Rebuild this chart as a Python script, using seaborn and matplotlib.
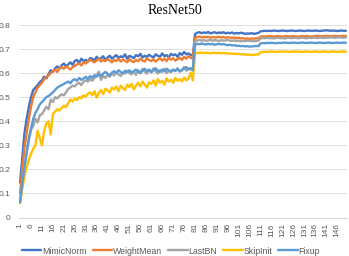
import numpy as np
import pandas as pd
import matplotlib
matplotlib.use("Agg")
import matplotlib.pyplot as plt
import seaborn as sns

epochs = list(range(1, 151))
series_names = ["MimicNorm", "WeightMean", "LastBN", "SkipInit", "Fixup"]
colors = ["#4472C4", "#ED7D31", "#A5A5A5", "#FFC000", "#5B9BD5"]

mimicnorm = [
    0.145, 0.250, 0.350, 0.410, 0.460, 0.500, 0.530, 0.540, 0.550, 0.562,
    0.570, 0.585, 0.578, 0.595, 0.612, 0.605, 0.620, 0.628, 0.618, 0.632,
    0.640, 0.628, 0.636, 0.645, 0.635, 0.650, 0.655, 0.642, 0.660, 0.650,
    0.655, 0.648, 0.662, 0.660, 0.652, 0.668, 0.658, 0.662, 0.670, 0.655,
    0.665, 0.672, 0.660, 0.668, 0.675, 0.662, 0.670, 0.666, 0.678, 0.660,
    0.672, 0.668, 0.662, 0.675, 0.670, 0.680, 0.665, 0.672, 0.668, 0.676,
    0.670, 0.665, 0.678, 0.672, 0.668, 0.682, 0.670, 0.675, 0.665, 0.680,
    0.674, 0.678, 0.668, 0.683, 0.676, 0.688, 0.678, 0.682, 0.676, 0.672,
    0.762, 0.768, 0.770, 0.766, 0.769, 0.767, 0.771, 0.765, 0.768, 0.770,
    0.766, 0.769, 0.767, 0.770, 0.765, 0.768, 0.766, 0.769, 0.764, 0.767,
    0.765, 0.768, 0.766, 0.763, 0.765, 0.764, 0.766, 0.763, 0.765, 0.767,
    0.774, 0.775, 0.776, 0.775, 0.776, 0.775, 0.777, 0.776, 0.775, 0.776,
    0.777, 0.776, 0.775, 0.776, 0.777, 0.776, 0.775, 0.776, 0.777, 0.776,
    0.775, 0.776, 0.777, 0.776, 0.776, 0.777, 0.776, 0.775, 0.776, 0.777,
    0.778, 0.777, 0.776, 0.777, 0.776, 0.775, 0.776, 0.777, 0.776, 0.776,
]
weightmean = [
    0.100, 0.200, 0.290, 0.350, 0.410, 0.460, 0.500, 0.520, 0.540, 0.550,
    0.560, 0.575, 0.585, 0.590, 0.600, 0.608, 0.615, 0.605, 0.620, 0.625,
    0.618, 0.628, 0.622, 0.615, 0.625, 0.630, 0.636, 0.640, 0.632, 0.645,
    0.640, 0.648, 0.655, 0.650, 0.645, 0.652, 0.660, 0.648, 0.655, 0.650,
    0.658, 0.652, 0.645, 0.655, 0.650, 0.660, 0.648, 0.656, 0.652, 0.645,
    0.658, 0.650, 0.646, 0.655, 0.650, 0.660, 0.652, 0.648, 0.662, 0.654,
    0.650, 0.658, 0.648, 0.656, 0.662, 0.652, 0.660, 0.650, 0.664, 0.656,
    0.662, 0.652, 0.658, 0.665, 0.655, 0.668, 0.660, 0.670, 0.664, 0.660,
    0.745, 0.750, 0.752, 0.748, 0.750, 0.749, 0.751, 0.747, 0.750, 0.748,
    0.749, 0.751, 0.748, 0.750, 0.747, 0.749, 0.748, 0.746, 0.748, 0.745,
    0.747, 0.744, 0.745, 0.743, 0.744, 0.742, 0.744, 0.743, 0.745, 0.744,
    0.752, 0.753, 0.752, 0.753, 0.754, 0.753, 0.752, 0.753, 0.754, 0.753,
    0.752, 0.753, 0.754, 0.753, 0.753, 0.754, 0.753, 0.752, 0.753, 0.754,
    0.753, 0.754, 0.753, 0.752, 0.753, 0.754, 0.755, 0.754, 0.753, 0.754,
    0.755, 0.754, 0.753, 0.754, 0.755, 0.754, 0.753, 0.754, 0.755, 0.754,
]
lastbn = [
    0.070, 0.140, 0.210, 0.270, 0.320, 0.365, 0.380, 0.410, 0.395, 0.425,
    0.430, 0.445, 0.460, 0.450, 0.490, 0.480, 0.500, 0.495, 0.505, 0.512,
    0.508, 0.520, 0.535, 0.540, 0.548, 0.545, 0.555, 0.560, 0.550, 0.565,
    0.570, 0.565, 0.575, 0.568, 0.580, 0.590, 0.606, 0.572, 0.588, 0.580,
    0.592, 0.585, 0.598, 0.590, 0.605, 0.595, 0.588, 0.602, 0.598, 0.610,
    0.600, 0.595, 0.608, 0.592, 0.612, 0.600, 0.618, 0.605, 0.598, 0.615,
    0.602, 0.620, 0.608, 0.598, 0.612, 0.605, 0.618, 0.600, 0.610, 0.604,
    0.615, 0.608, 0.620, 0.606, 0.612, 0.625, 0.610, 0.618, 0.622, 0.612,
    0.732, 0.736, 0.738, 0.735, 0.737, 0.734, 0.736, 0.738, 0.735, 0.737,
    0.736, 0.734, 0.737, 0.735, 0.736, 0.738, 0.735, 0.734, 0.736, 0.733,
    0.735, 0.732, 0.734, 0.733, 0.735, 0.733, 0.734, 0.732, 0.734, 0.735,
    0.744, 0.746, 0.745, 0.747, 0.745, 0.746, 0.744, 0.746, 0.747, 0.745,
    0.746, 0.744, 0.746, 0.747, 0.745, 0.746, 0.747, 0.745, 0.746, 0.748,
    0.746, 0.745, 0.747, 0.746, 0.748, 0.747, 0.746, 0.748, 0.747, 0.746,
    0.748, 0.747, 0.749, 0.748, 0.747, 0.748, 0.749, 0.748, 0.747, 0.748,
]
skipinit = [
    0.060, 0.120, 0.170, 0.210, 0.240, 0.265, 0.285, 0.300, 0.360, 0.330,
    0.300, 0.360, 0.390, 0.400, 0.345, 0.430, 0.440, 0.450, 0.445, 0.455,
    0.465, 0.458, 0.475, 0.490, 0.482, 0.495, 0.488, 0.500, 0.495, 0.508,
    0.502, 0.515, 0.520, 0.508, 0.525, 0.498, 0.518, 0.530, 0.512, 0.535,
    0.528, 0.520, 0.540, 0.532, 0.545, 0.525, 0.548, 0.538, 0.530, 0.552,
    0.542, 0.556, 0.532, 0.548, 0.560, 0.545, 0.565, 0.552, 0.540, 0.562,
    0.555, 0.570, 0.548, 0.575, 0.560, 0.568, 0.552, 0.578, 0.565, 0.572,
    0.560, 0.580, 0.568, 0.575, 0.565, 0.582, 0.570, 0.576, 0.602, 0.570,
    0.680, 0.685, 0.684, 0.686, 0.683, 0.685, 0.684, 0.682, 0.685, 0.684,
    0.683, 0.685, 0.682, 0.684, 0.683, 0.681, 0.682, 0.680, 0.681, 0.679,
    0.680, 0.678, 0.679, 0.677, 0.676, 0.677, 0.675, 0.676, 0.678, 0.677,
    0.687, 0.688, 0.689, 0.688, 0.689, 0.690, 0.689, 0.688, 0.689, 0.690,
    0.689, 0.690, 0.689, 0.688, 0.689, 0.690, 0.689, 0.690, 0.689, 0.688,
    0.689, 0.690, 0.689, 0.688, 0.689, 0.690, 0.689, 0.688, 0.689, 0.690,
    0.689, 0.688, 0.689, 0.690, 0.689, 0.688, 0.689, 0.690, 0.689, 0.689,
]
fixup = [
    0.063, 0.140, 0.210, 0.270, 0.330, 0.370, 0.410, 0.435, 0.450, 0.470,
    0.480, 0.490, 0.500, 0.505, 0.512, 0.520, 0.530, 0.540, 0.545, 0.550,
    0.555, 0.560, 0.565, 0.558, 0.570, 0.575, 0.568, 0.580, 0.572, 0.578,
    0.585, 0.575, 0.588, 0.580, 0.592, 0.585, 0.595, 0.588, 0.598, 0.605,
    0.598, 0.590, 0.602, 0.608, 0.600, 0.612, 0.605, 0.598, 0.610, 0.604,
    0.612, 0.602, 0.608, 0.615, 0.606, 0.600, 0.612, 0.618, 0.608, 0.614,
    0.605, 0.612, 0.620, 0.610, 0.606, 0.615, 0.608, 0.618, 0.612, 0.606,
    0.614, 0.610, 0.618, 0.608, 0.612, 0.620, 0.625, 0.615, 0.618, 0.612,
    0.718, 0.722, 0.720, 0.723, 0.721, 0.719, 0.722, 0.720, 0.721, 0.718,
    0.720, 0.722, 0.719, 0.721, 0.718, 0.716, 0.718, 0.715, 0.716, 0.713,
    0.714, 0.712, 0.713, 0.711, 0.712, 0.710, 0.711, 0.712, 0.713, 0.712,
    0.724, 0.725, 0.724, 0.726, 0.725, 0.726, 0.725, 0.724, 0.726, 0.725,
    0.726, 0.727, 0.726, 0.725, 0.726, 0.727, 0.726, 0.725, 0.726, 0.727,
    0.726, 0.725, 0.726, 0.727, 0.726, 0.725, 0.726, 0.727, 0.726, 0.725,
    0.726, 0.727, 0.726, 0.725, 0.726, 0.727, 0.726, 0.726, 0.727, 0.726,
]
y_ticks = [0, 0.1, 0.2, 0.3, 0.4, 0.5, 0.6, 0.7, 0.8]
y_tick_labels = ["0", "0.1", "0.2", "0.3", "0.4", "0.5", "0.6", "0.7", "0.8"]
x_tick_epochs = list(range(1, 151, 5))
title = "ResNet50"

values = [mimicnorm, weightmean, lastbn, skipinit, fixup]
df = pd.concat(
    [pd.DataFrame({"epoch": epochs, "acc": v, "method": n}) for n, v in zip(series_names, values)],
    ignore_index=True,
)

sns.set_theme(style="white")
plt.rcParams["font.family"] = ["Liberation Sans", "DejaVu Sans"]
text_color = "#595959"

fig = plt.figure(figsize=(3.49, 2.56), dpi=100)
ax = fig.add_axes([19 / 349, 1 - 217.5 / 256, 328 / 349, 192.5 / 256])

sns.lineplot(data=df, x="epoch", y="acc", hue="method", palette=colors,
             hue_order=series_names, linewidth=1.7, ax=ax, legend=False)

ax.set_xlim(0.5, 150.5)
ax.set_ylim(0, 0.8)
ax.set_yticks(y_ticks)
ax.set_yticklabels(y_tick_labels)
ax.set_xticks(x_tick_epochs)
ax.set_xticklabels([str(e) for e in x_tick_epochs], rotation=90)
ax.tick_params(axis="both", length=0, labelsize=6, colors=text_color)
ax.tick_params(axis="y", pad=6)
ax.tick_params(axis="x", pad=4)
ax.set_xlabel("")
ax.set_ylabel("")
ax.grid(axis="y", color="#D9D9D9", linewidth=0.6)
ax.grid(axis="x", visible=False)
for s in ["left", "right", "top"]:
    ax.spines[s].set_visible(False)
ax.spines["bottom"].set_color("#D9D9D9")
ax.spines["bottom"].set_linewidth(0.8)
ax.set_axisbelow(True)

fig.text(175 / 349, 1 - 11 / 256, title, ha="center", va="center",
         fontsize=10, family=["Liberation Serif", "DejaVu Serif"], color="#000000")

handles = [plt.Line2D([0], [0], color=c, lw=1.7) for c in colors]
fig.legend(handles, series_names, loc="center", bbox_to_anchor=(171 / 349, 1 - 251 / 256),
           ncol=5, frameon=False, fontsize=6.3, handlelength=2.2, handletextpad=0.1,
           columnspacing=0.7, labelcolor=text_color, borderaxespad=0, borderpad=0)

fig.savefig("out.png", dpi=100)
